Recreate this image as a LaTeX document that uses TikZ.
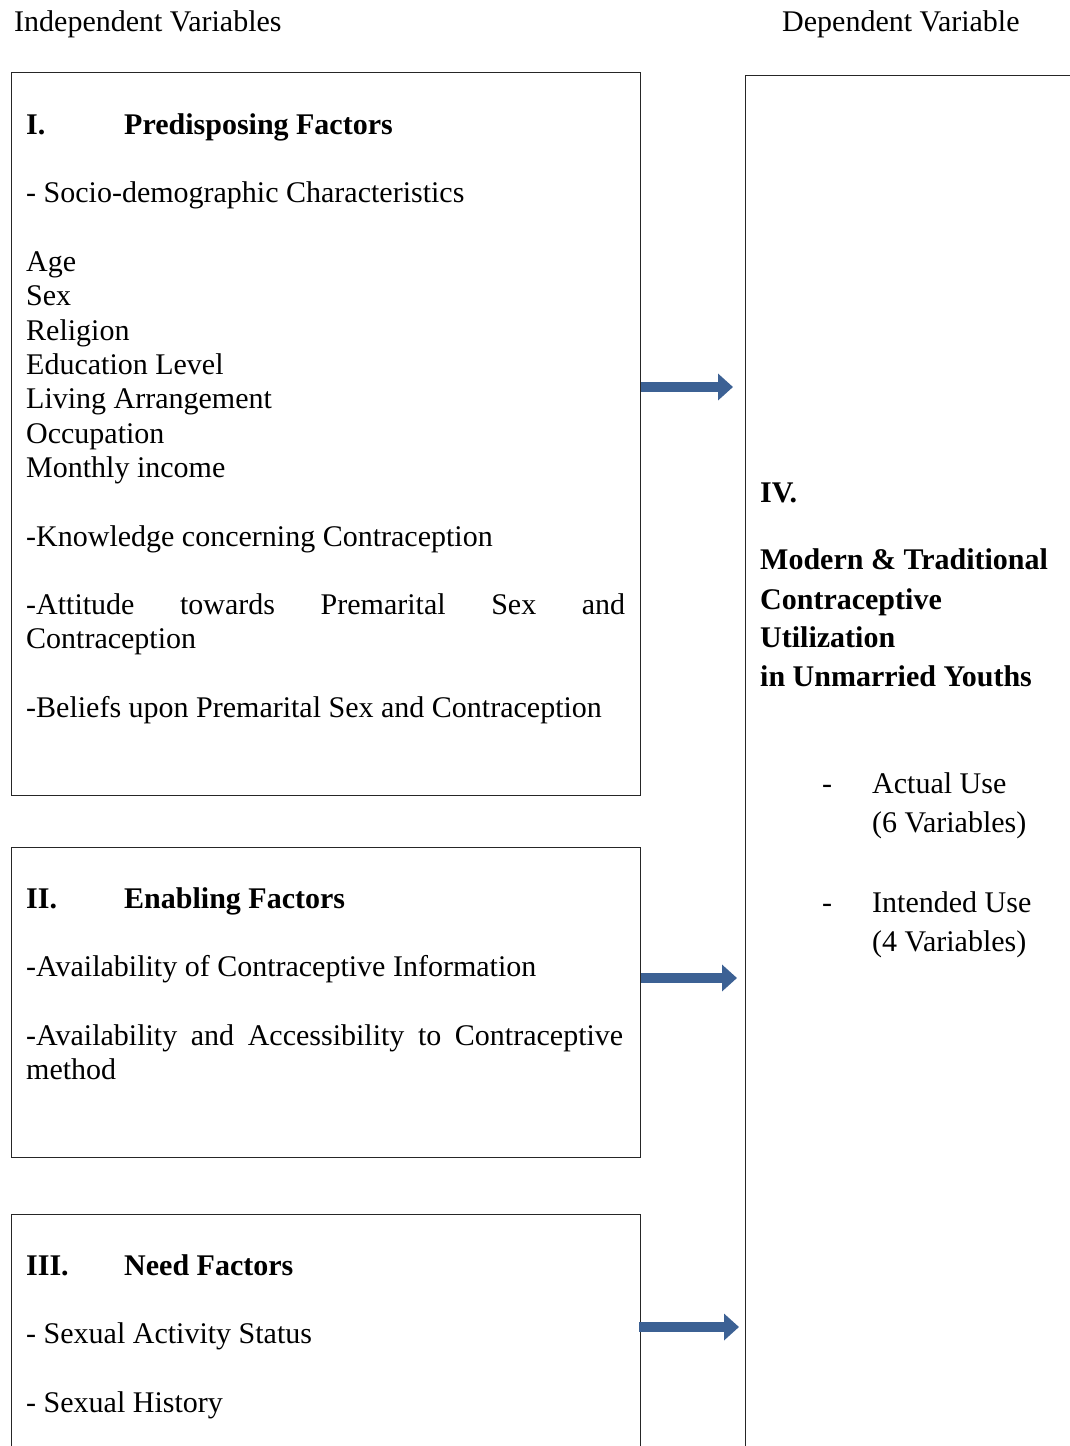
\documentclass[tikz,border=0pt]{standalone}
\usepackage{fontspec}
\setmainfont{Liberation Serif}
\usetikzlibrary{arrows.meta}
\definecolor{arrowblue}{HTML}{3C6194}
\tikzset{
  box/.style={draw=black!85, line width=1.4pt, anchor=north west, inner sep=0pt},
  txt/.style={anchor=base west, inner sep=0pt, font=\fontsize{30}{34}\selectfont},
  btxt/.style={txt, font=\fontsize{30}{34}\selectfont\bfseries},
  bigarrow/.style={draw=arrowblue, line width=10pt, -{Triangle[length=15pt,width=26pt]}}
}
\begin{document}
\begin{tikzpicture}[x=1pt,y=-1pt]
\useasboundingbox (0,0) rectangle (1070,1446);
\clip (0,0) rectangle (1070,1446);
% boxes
\node[box, minimum width=629pt, minimum height=723pt] (b1) at (11,72) {};
\node[box, minimum width=629pt, minimum height=310pt] (b2) at (11,847) {};
\node[box, minimum width=629pt, minimum height=300pt] (b3) at (11,1214) {};
\node[box, minimum width=360pt, minimum height=1420pt] (b4) at (745,75) {};
% headings
\node[txt] (hind) at (14,31) {Independent Variables};
\node[txt] (hdep) at (782,31) {Dependent Variable};
% box I
\node[btxt] (t1n) at (26,134) {I.};
\node[btxt] (t1h) at (124,134) {Predisposing Factors};
\node[txt] (t1a) at (26,202) {- Socio-demographic Characteristics};
\node[txt] (t1b) at (26,271) {Age};
\node[txt] (t1c) at (26,305) {Sex};
\node[txt] (t1d) at (26,340) {Religion};
\node[txt] (t1e) at (26,374) {Education Level};
\node[txt] (t1f) at (26,408) {Living Arrangement};
\node[txt] (t1g) at (26,443) {Occupation};
\node[txt] (t1h2) at (26,477) {Monthly income};
\node[txt] (t1i) at (26,546) {-Knowledge concerning Contraception};
\node[txt] (t1j) at (26,614) {\makebox[599pt][s]{-Attitude\hfill towards\hfill Premarital\hfill Sex\hfill and}};
\node[txt] (t1k) at (26,648) {Contraception};
\node[txt] (t1l) at (26,717) {-Beliefs upon Premarital Sex and Contraception};
% box II
\node[btxt] (t2n) at (26,908) {II.};
\node[btxt] (t2h) at (124,908) {Enabling Factors};
\node[txt] (t2a) at (26,976) {-Availability of Contraceptive Information};
\node[txt] (t2b) at (26,1045) {\makebox[597pt][s]{-Availability\hfill and\hfill Accessibility\hfill to\hfill Contraceptive}};
\node[txt] (t2c) at (26,1079) {method};
% box III
\node[btxt] (t3n) at (26,1275) {III.};
\node[btxt] (t3h) at (124,1275) {Need Factors};
\node[txt] (t3a) at (26,1343) {- Sexual Activity Status};
\node[txt] (t3b) at (26,1412) {- Sexual History};
% box IV
\node[btxt] (t4n) at (760,502) {IV.};
\node[btxt] (t4a) at (760,569) {Modern \& Traditional};
\node[btxt] (t4b) at (760,609) {Contraceptive};
\node[btxt] (t4c) at (760,647) {Utilization};
\node[btxt] (t4d) at (760,686) {in Unmarried Youths};
\node[txt] (t4e) at (822,793) {-};
\node[txt] (t4f) at (872,793) {Actual Use};
\node[txt] (t4g) at (872,832) {(6 Variables)};
\node[txt] (t4h) at (822,912) {-};
\node[txt] (t4i) at (872,912) {Intended Use};
\node[txt] (t4j) at (872,951) {(4 Variables)};
% arrows
\coordinate (y1) at (0,387);
\coordinate (y2) at (0,978);
\coordinate (y3) at (0,1327);
\draw[bigarrow] (b1.east |- y1) -- ([xshift=-12pt]b4.west |- y1);
\draw[bigarrow] (b2.east |- y2) -- ([xshift=-8pt]b4.west |- y2);
\draw[bigarrow] ([xshift=-2pt]b3.east |- y3) -- ([xshift=-6pt]b4.west |- y3);
\end{tikzpicture}
\end{document}
